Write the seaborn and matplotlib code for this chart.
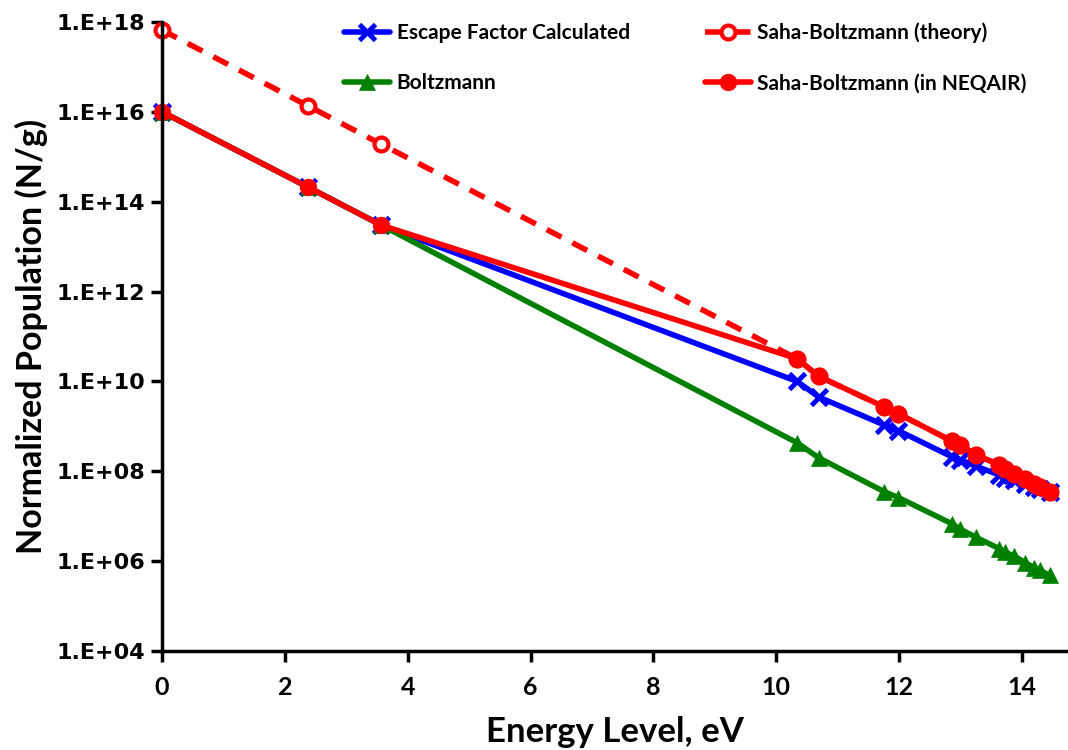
import matplotlib
matplotlib.use("Agg")
import matplotlib.pyplot as plt
import matplotlib.ticker as mticker
import seaborn as sns
import pandas as pd

energy_low = [0.0, 2.38, 3.57]
energy_high = [10.34, 10.69, 11.76, 11.99, 12.86, 12.99, 13.25, 13.63, 13.72, 13.87, 14.05, 14.20, 14.30, 14.45]
energy = energy_low + energy_high

escape_factor = [1.0e16, 2.1e14, 3.0e13, 1.0e10, 4.5e9, 1.07e9, 8.0e8, 2.1e8, 1.8e8, 1.3e8,
                 8.3e7, 7.2e7, 6.3e7, 5.2e7, 4.5e7, 4.0e7, 3.5e7]
boltzmann = [1.0e16, 2.1e14, 3.0e13, 4.3e8, 2.0e8, 3.5e7, 2.6e7, 6.8e6, 5.2e6, 3.4e6,
             1.9e6, 1.6e6, 1.3e6, 9.3e5, 7.2e5, 6.2e5, 4.8e5]
saha_neqair = [1.0e16, 2.1e14, 3.0e13, 3.2e10, 1.3e10, 2.7e9, 1.9e9, 4.7e8, 3.9e8, 2.3e8,
               1.4e8, 1.1e8, 8.5e7, 6.6e7, 5.2e7, 4.5e7, 3.5e7]
saha_theory = [6.6e17, 1.35e16, 1.9e15, 3.2e10, 1.3e10, 2.7e9, 1.9e9, 4.7e8, 3.9e8, 2.3e8,
               1.4e8, 1.1e8, 8.5e7, 6.6e7, 5.2e7, 4.5e7, 3.5e7]

labels = ["Escape Factor Calculated", "Boltzmann", "Saha-Boltzmann (theory)", "Saha-Boltzmann (in NEQAIR)"]
xticks = [0, 2, 4, 6, 8, 10, 12, 14]
yticks = [1e4, 1e6, 1e8, 1e10, 1e12, 1e14, 1e16, 1e18]
ytick_labels = ["1.E+04", "1.E+06", "1.E+08", "1.E+10", "1.E+12", "1.E+14", "1.E+16", "1.E+18"]

sns.set_theme(style="white")
plt.rcParams['font.family'] = ['Lato', 'DejaVu Sans']
plt.rcParams['text.color'] = 'black'
plt.rcParams['axes.labelcolor'] = 'black'
plt.rcParams['xtick.color'] = 'black'
plt.rcParams['ytick.color'] = 'black'

fig = plt.figure(figsize=(10.68, 7.5), dpi=100)
ax = fig.add_axes([0.1517, 0.132, 0.8483, 0.8387])

df = pd.DataFrame({"E": energy, "esc": escape_factor, "bol": boltzmann,
                   "neq": saha_neqair, "the": saha_theory})

sns.lineplot(data=df, x="E", y="esc", ax=ax, color="#0000ff", marker="x", markersize=12,
             markeredgecolor="#0000ff", markeredgewidth=3.5, linewidth=4,
             label=labels[0], clip_on=False)
sns.lineplot(data=df, x="E", y="bol", ax=ax, color="#008000", marker="^", markersize=11,
             markeredgecolor="#008000", markeredgewidth=0.5, linewidth=4,
             label=labels[1], clip_on=False)
sns.lineplot(data=df, x="E", y="the", ax=ax, color="#ff0000", marker="o", markersize=10,
             markerfacecolor="white", markeredgecolor="#ff0000", markeredgewidth=3,
             linewidth=4, linestyle=(0, (3, 2.2)), label=labels[2], clip_on=False)
sns.lineplot(data=df, x="E", y="neq", ax=ax, color="#ff0000", marker="o", markersize=12,
             markeredgecolor="#ff0000", markeredgewidth=0.5, linewidth=4,
             label=labels[3], clip_on=False)

ax.set_yscale("log")
ax.set_xlim(0, 14.75)
ax.set_ylim(1e4, 1e18)
ax.set_xticks(xticks)
ax.set_xticklabels([str(t) for t in xticks], fontsize=18, fontweight="bold", color="black")
ax.set_yticks(yticks)
ax.yaxis.set_minor_locator(mticker.NullLocator())
ax.set_yticklabels(ytick_labels, fontsize=16, fontweight="bold", family="DejaVu Sans", color="black")

for s in ["top", "right"]:
    ax.spines[s].set_visible(False)
for s in ["left", "bottom"]:
    ax.spines[s].set_color("black")
    ax.spines[s].set_linewidth(2.5)
ax.tick_params(axis="both", which="major", direction="out", length=8, width=2.5,
               color="black", labelcolor="black", left=True, bottom=True)
ax.tick_params(axis="x", pad=10)
ax.tick_params(axis="y", pad=4)

ax.set_xlabel("Energy Level, eV", fontsize=25, fontweight="bold", labelpad=12, color="black")
ax.set_ylabel("Normalized Population (N/g)", fontsize=24.5, fontweight="bold", labelpad=6, color="black")
ax.grid(False)

leg = ax.legend(ncol=2, frameon=False, loc="upper left", bbox_to_anchor=(0.305, 0.995),
                bbox_transform=fig.transFigure, prop={"weight": "bold", "size": 15},
                handlelength=2.2, labelspacing=1.45, columnspacing=3.6, handletextpad=0.3)
for t in leg.get_texts():
    t.set_color("black")

fig.savefig("out.png", dpi=100)
